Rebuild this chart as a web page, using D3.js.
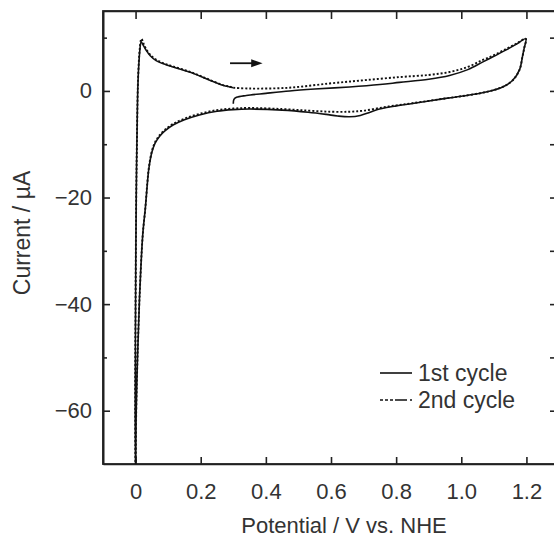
<!DOCTYPE html>
<html>
<head>
<meta charset="utf-8">
<script src="https://cdn.jsdelivr.net/npm/d3@7"></script>
<style>
  body { margin: 0; background: #fff; }
  text { font-family: Arial, "Liberation Sans", sans-serif; fill: #333; }
</style>
</head>
<body>
<div id="data"></div>
<script>
// Cyclic voltammogram, 1st cycle (solid)
var cycle1Potential = [0.300,0.302,0.310,0.340,0.400,0.473,0.550,0.657,0.750,0.810,0.900,0.964,1.020,1.065,1.100,1.138,1.170,1.198,
    1.193,1.188,1.179,1.158,1.127,1.076,1.000,0.952,0.850,0.800,0.749,0.720,0.690,0.657,0.620,0.585,0.530,0.450,0.350,0.300,
    0.250,0.196,0.150,0.115,0.090,0.074,0.060,0.050,0.041,0.036,0.030,0.022,0.012,0.006,0.002,0.000,
    -0.001,0.000,0.002,0.004,0.007,0.010,0.013,0.017,0.025,0.033,0.045,0.063,0.090,0.115,0.166,0.217,0.268,0.289,0.300];
var cycle1Current = [-2.4,-1.6,-1.2,-0.85,-0.45,0.0,0.35,0.75,1.2,1.6,2.2,2.9,4.0,5.4,6.5,7.7,8.8,9.8,
    8.0,6.5,4.0,2.0,0.75,-0.2,-1.0,-1.4,-2.35,-2.8,-3.4,-4.0,-4.6,-4.85,-4.7,-4.4,-4.0,-3.6,-3.4,-3.5,
    -3.8,-4.5,-5.4,-6.4,-7.5,-8.5,-9.8,-11.5,-14.5,-17.5,-22,-27,-39,-50,-60,-72,
    -60,-40,-20,-10,0.75,5.0,7.5,9.2,8.4,7.6,6.6,5.7,5.0,4.5,3.55,2.3,1.07,0.75,0.6];

// 2nd cycle (dotted)
var cycle2Potential = [0.300,0.350,0.470,0.595,0.700,0.810,0.900,0.964,1.020,1.065,1.100,1.138,1.170,1.198,
    1.193,1.188,1.179,1.158,1.127,1.076,1.000,0.952,0.850,0.800,0.749,0.700,0.657,0.600,0.530,0.450,0.350,0.300,0.250,0.196,
    0.150,0.115,0.090,0.074,0.060,0.050,0.041,0.036,0.030,0.022,0.012,0.006,0.002,0.000,
    -0.001,0.000,0.002,0.004,0.007,0.010,0.013,0.018,0.025,0.033,0.045,0.063,0.090,0.115,0.166,0.217,0.268,0.289,0.300];
var cycle2Current = [0.6,0.45,0.6,1.4,2.0,2.6,3.0,3.55,4.5,5.8,6.7,7.9,8.9,9.8,
    8.0,6.5,4.0,2.0,0.75,-0.2,-1.0,-1.4,-2.3,-2.7,-3.2,-3.7,-3.9,-3.9,-3.7,-3.4,-3.2,-3.3,-3.6,-4.3,
    -5.2,-6.2,-7.3,-8.3,-9.6,-11.3,-14.3,-17.3,-22,-27,-39,-50,-60,-72,
    -60,-40,-20,-10,1.0,5.5,8.0,9.8,8.8,7.8,6.8,5.9,5.1,4.6,3.6,2.35,1.1,0.8,0.6];

var seriesNames = ["1st cycle", "2nd cycle"];
var xTicks = [0, 0.2, 0.4, 0.6, 0.8, 1.0, 1.2];
var yTicks = [0, -20, -40, -60];
var yMinorTicks = [10, -10, -30, -50];

var width = 554, height = 538;
var plotLeft = 103, plotTop = 11, plotRight = 559, plotBottom = 464;

var svg = d3.select("#data")
  .append("svg")
    .attr("width", width)
    .attr("height", height);

// Scales
var x = d3.scaleLinear().domain([-0.1, 1.3]).range([plotLeft, plotRight]);
var y = d3.scaleLinear().domain([-70, 15]).range([plotBottom, plotTop]);

var fmtX = function(d) { return d === 0 ? "0" : d.toFixed(1); };
var fmtY = function(d) { return d < 0 ? "\u2212" + Math.abs(d) : String(d); };

// Bottom axis, ticks pointing in
svg.append("g")
    .attr("transform", "translate(0," + plotBottom + ")")
    .call(d3.axisBottom(x).tickValues(xTicks).tickFormat(fmtX)
        .tickSizeInner(-7).tickSizeOuter(0).tickPadding(19));

// Top axis
svg.append("g")
    .attr("transform", "translate(0," + plotTop + ")")
    .call(d3.axisTop(x).tickValues(xTicks).tickFormat("")
        .tickSizeInner(-8).tickSizeOuter(0));

// Left axis
svg.append("g")
    .attr("transform", "translate(" + plotLeft + ",0)")
    .call(d3.axisLeft(y).tickValues(yTicks).tickFormat(fmtY)
        .tickSizeInner(-7).tickSizeOuter(0).tickPadding(11));

svg.append("g")
    .attr("transform", "translate(" + plotLeft + ",0)")
    .call(d3.axisLeft(y).tickValues(yMinorTicks).tickFormat("")
        .tickSizeInner(-4).tickSizeOuter(0));

// Right axis
svg.append("g")
    .attr("transform", "translate(" + plotRight + ",0)")
    .call(d3.axisRight(y).tickValues(yTicks.concat(yMinorTicks)).tickFormat("")
        .tickSizeInner(-9).tickSizeOuter(0));

svg.selectAll(".domain, .tick line")
    .attr("stroke", "#222")
    .attr("stroke-width", 1.6);

svg.selectAll(".tick text")
    .attr("fill", "#333")
    .style("font-size", "22px")
    .style("font-family", "Arial, 'Liberation Sans', sans-serif");

// Frame
svg.append("rect")
    .attr("x", plotLeft)
    .attr("y", plotTop)
    .attr("width", plotRight - plotLeft)
    .attr("height", plotBottom - plotTop)
    .attr("fill", "none")
    .attr("stroke", "#222")
    .attr("stroke-width", 1.8);

// Axis titles
svg.append("text")
    .attr("x", 344)
    .attr("y", 533)
    .attr("text-anchor", "middle")
    .style("font-size", "22px")
    .text("Potential / V vs. NHE");

svg.append("text")
    .attr("transform", "translate(30,233) rotate(-90)")
    .attr("text-anchor", "middle")
    .style("font-size", "23px")
    .text("Current / \u00b5A");

// Clip the curves to the plot area
svg.append("clipPath")
    .attr("id", "plotClip")
  .append("rect")
    .attr("x", plotLeft)
    .attr("y", plotTop)
    .attr("width", plotRight - plotLeft)
    .attr("height", plotBottom - plotTop);

var line = d3.line()
    .curve(d3.curveCatmullRom.alpha(0.5))
    .x(function(d) { return x(d[0]); })
    .y(function(d) { return y(d[1]); });

var cycle1 = d3.zip(cycle1Potential, cycle1Current);
var cycle2 = d3.zip(cycle2Potential, cycle2Current);

var plot = svg.append("g").attr("clip-path", "url(#plotClip)");

plot.append("path")
    .datum(cycle1)
    .attr("d", line)
    .attr("fill", "none")
    .attr("stroke", "#111")
    .attr("stroke-width", 1.6)
    .attr("stroke-linejoin", "round");

plot.append("path")
    .datum(cycle2)
    .attr("d", line)
    .attr("fill", "none")
    .attr("stroke", "#111")
    .attr("stroke-width", 1.9)
    .attr("stroke-dasharray", "2,2");

// Scan direction arrow
var arrowY = y(5.2);
svg.append("line")
    .attr("x1", x(0.29))
    .attr("x2", x(0.36))
    .attr("y1", arrowY)
    .attr("y2", arrowY)
    .attr("stroke", "#111")
    .attr("stroke-width", 1.8);

svg.append("path")
    .attr("d", "M" + x(0.355) + "," + (arrowY - 4) + " L" + x(0.39) + "," + arrowY + " L" + x(0.355) + "," + (arrowY + 4) + " Z")
    .attr("fill", "#111");

// Legend
var legend = svg.append("g").attr("transform", "translate(380,373)");
var dashes = [null, "3,2,3,2,3,2,12"];

seriesNames.forEach(function(name, i) {
    legend.append("line")
        .attr("x1", 0)
        .attr("x2", 32)
        .attr("y1", i * 27)
        .attr("y2", i * 27)
        .attr("stroke", "#111")
        .attr("stroke-width", 1.6)
        .attr("stroke-dasharray", dashes[i]);
    legend.append("text")
        .attr("x", 38)
        .attr("y", i * 27)
        .attr("dy", "0.35em")
        .style("font-size", "23px")
        .text(name);
});
</script>
</body>
</html>
